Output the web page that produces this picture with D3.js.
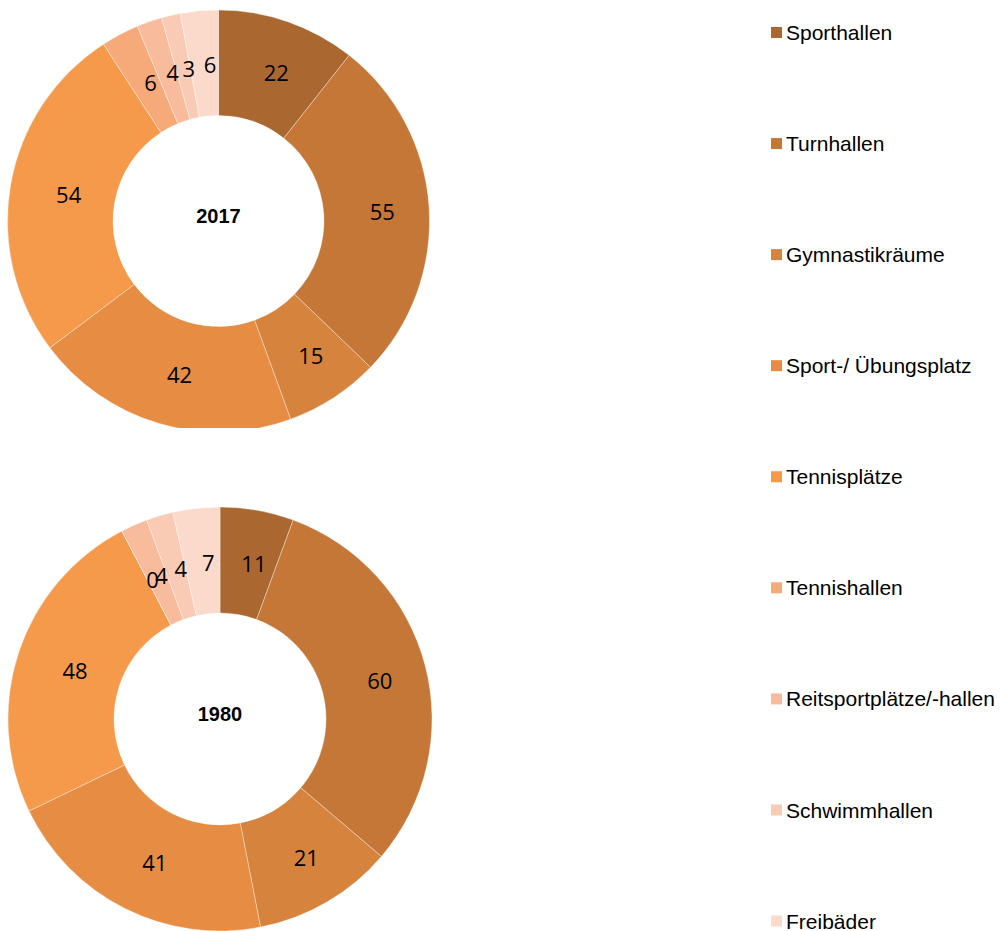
<!DOCTYPE html>
<html>
<head>
<meta charset="utf-8">
<script src="https://cdn.jsdelivr.net/npm/d3@7"></script>
<style>
  body { margin: 0; background: #fff; }
  .label { font-family: 'Open Sans', sans-serif; font-size: 22px; fill: #000; }
  .year { font-family: 'Liberation Sans', Arial, sans-serif; font-size: 20px; font-weight: bold; }
  .legend text { font-family: 'Liberation Sans', Arial, sans-serif; font-size: 21px; fill: #000; }
</style>
</head>
<body>
<svg id="main" width="1001" height="931"></svg>
<script>
const categories = [
  'Sporthallen', 'Turnhallen', 'Gymnastikräume', 'Sport-/ Übungsplatz',
  'Tennisplätze', 'Tennishallen', 'Reitsportplätze/-hallen', 'Schwimmhallen', 'Freibäder'
];
const values2017 = [22, 55, 15, 42, 54, 6, 4, 3, 6];
const values1980 = [11, 60, 21, 41, 48, 0, 4, 4, 7];
const colors = [
  '#aa6830', '#c47737', '#d6833e', '#e68c43', '#f5994a',
  '#f6aa7a', '#f8bb9b', '#f9cab4', '#fbdacb'
];

const svg = d3.select('svg#main');

const color = d3.scaleOrdinal()
  .domain(categories)
  .range(colors);

const pie = d3.pie()
  .sort(null)
  .value(d => d.value);

// clip so the upper ring is cut off like in the original
svg.append('defs').append('clipPath')
  .attr('id', 'clipTop')
  .append('rect')
  .attr('x', 0).attr('y', 0)
  .attr('width', 1001).attr('height', 428);

function donut(values, year, cx, cy, r, clip) {
  const data = categories.map((c, i) => ({ cat: c, value: values[i] }));
  const inner = r * 0.5;
  const arc = d3.arc().innerRadius(inner).outerRadius(r);
  const labelArc = d3.arc().innerRadius((inner + r) / 2).outerRadius((inner + r) / 2);

  const g = svg.append('g');
  if (clip) g.attr('clip-path', `url(#${clip})`);

  const chart = g.append('g')
    .attr('transform', `translate(${cx}, ${cy})`);

  chart.selectAll('path')
    .data(pie(data))
    .enter()
    .append('path')
    .attr('d', arc)
    .attr('fill', d => color(d.data.cat))
    .attr('stroke', '#fff')
    .attr('stroke-opacity', 0.5)
    .attr('stroke-width', 0.7);

  // labels sit a little right/below the ring centre line, as Excel places them
  chart.selectAll('text.label')
    .data(pie(data))
    .enter()
    .append('text')
    .attr('class', 'label')
    .attr('x', d => labelArc.centroid(d)[0] + 6)
    .attr('y', d => labelArc.centroid(d)[1] + 2)
    .attr('dy', '0.36em')
    .attr('text-anchor', 'middle')
    .text(d => d.data.value);

  chart.append('text')
    .attr('class', 'year')
    .attr('y', -5)
    .attr('dy', '0.36em')
    .attr('text-anchor', 'middle')
    .text(year);
}

donut(values2017, '2017', 218.5, 221, 211, 'clipTop');
donut(values1980, '1980', 220, 719, 212, null);

// legend
const ly = d3.scaleLinear()
  .domain([0, categories.length - 1])
  .range([32.5, 921]);

const legend = svg.append('g').attr('class', 'legend');
const items = legend.selectAll('g')
  .data(categories)
  .enter()
  .append('g')
  .attr('transform', (d, i) => `translate(771, ${ly(i)})`);

items.append('rect')
  .attr('x', 0)
  .attr('y', -5.5)
  .attr('width', 11)
  .attr('height', 11)
  .attr('fill', d => color(d));

items.append('text')
  .attr('x', 15)
  .attr('dy', '0.36em')
  .text(d => d);
</script>
</body>
</html>
